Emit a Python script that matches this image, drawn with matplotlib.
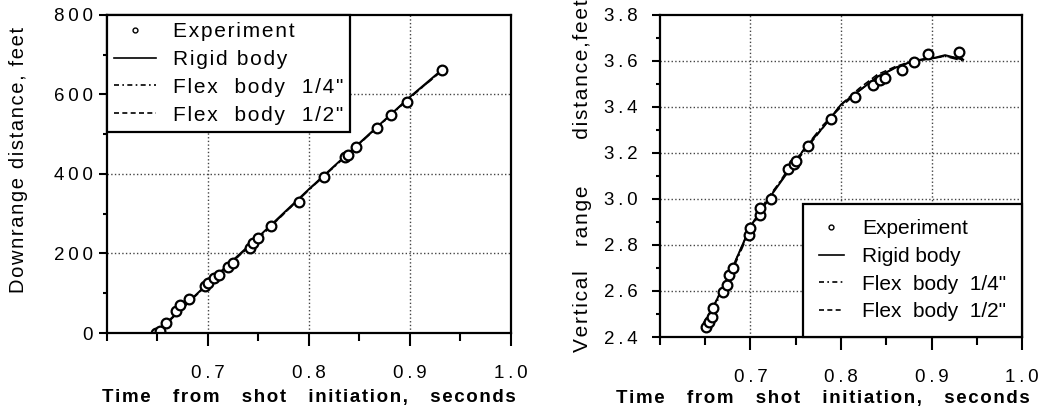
import matplotlib
matplotlib.use('Agg')
import matplotlib.pyplot as plt
from matplotlib.lines import Line2D
from matplotlib.ticker import MultipleLocator, FixedLocator

plt.rcParams['font.family'] = ['Liberation Sans', 'DejaVu Sans']

# Downrange distance (feet) vs time (s)
t_exp_dr = [0.649, 0.653, 0.658, 0.668, 0.672, 0.681, 0.697, 0.700, 0.706, 0.711,
            0.720, 0.725, 0.742, 0.745, 0.750, 0.762, 0.790, 0.8145, 0.836, 0.839,
            0.847, 0.867, 0.881, 0.897, 0.932]
d_exp_dr = [0, 5, 25, 55, 70, 85, 117, 125, 138, 146,
            167, 176, 213, 226, 238, 268, 330, 393, 443, 448,
            469, 515, 548, 582, 661]
t_mod_dr = [0.648, 0.66, 0.70, 0.75, 0.80, 0.85, 0.90, 0.932]
rigid_dr = [0, 28, 125, 242, 362, 478, 594, 663]
flex14_dr = [0, 27, 123, 240, 360, 476, 592, 661]
flex12_dr = [0, 26, 124, 238, 361, 477, 593, 660]

# Vertical range distance (feet) vs time (s)
t_exp_vr = [0.651, 0.654, 0.657, 0.659, 0.670, 0.674, 0.676, 0.681, 0.698, 0.700,
            0.711, 0.711, 0.723, 0.741, 0.748, 0.750, 0.763, 0.789, 0.815, 0.835,
            0.843, 0.849, 0.867, 0.881, 0.896, 0.930]
v_exp_vr = [2.444, 2.466, 2.487, 2.524, 2.597, 2.626, 2.670, 2.699, 2.845, 2.874,
            2.932, 2.961, 2.998, 3.129, 3.151, 3.166, 3.231, 3.348, 3.443, 3.494,
            3.516, 3.527, 3.559, 3.596, 3.632, 3.640]
t_mod_vr = [0.648, 0.66, 0.68, 0.70, 0.72, 0.74, 0.76, 0.78, 0.80, 0.82,
            0.84, 0.86, 0.88, 0.90, 0.915, 0.935]
rigid_vr = [2.45, 2.54, 2.70, 2.88, 3.00, 3.11, 3.22, 3.31, 3.41, 3.47,
            3.53, 3.57, 3.60, 3.61, 3.625, 3.605]
flex14_vr = [2.45, 2.53, 2.69, 2.87, 3.00, 3.12, 3.22, 3.32, 3.40, 3.47,
             3.53, 3.57, 3.60, 3.61, 3.62, 3.60]
flex12_vr = [2.46, 2.54, 2.70, 2.88, 3.01, 3.11, 3.21, 3.31, 3.41, 3.48,
             3.54, 3.575, 3.60, 3.615, 3.62, 3.61]

x_ticks = [0.7, 0.8, 0.9, 1.0]
x_ticklabels = ['0.7', '0.8', '0.9', '1.0']
dr_ticks = [0, 200, 400, 600, 800]
dr_ticklabels = ['0', '200', '400', '600', '800']
vr_ticks = [2.4, 2.6, 2.8, 3.0, 3.2, 3.4, 3.6, 3.8]
vr_ticklabels = ['2.4', '2.6', '2.8', '3.0', '3.2', '3.4', '3.6', '3.8']

labels = ['Experiment', 'Rigid body', 'Flex  body  1/4"', 'Flex  body  1/2"']
xlabel = 'Time   from   shot   initiation,   seconds'
ylabel_dr = 'Downrange distance, feet'
ylabel_vr = 'Vertical   range      distance,feet'

THIN = '\u2009'
HAIR = '\u200a'


def tracked(s, sp=THIN):
    # old typewriter-style letter spacing
    return sp.join(s)


fig = plt.figure(figsize=(10.57, 4.13), dpi=100)
ax1 = fig.add_axes([0.1012, 0.1937, 0.3822, 0.770])
ax2 = fig.add_axes([0.6244, 0.184, 0.3425, 0.780])


def style(ax, yticks, yticklabels, ylim, ymin_step, grid_y, ypad):
    ax.set_xlim(0.6, 1.0)
    ax.set_ylim(*ylim)
    ax.xaxis.set_major_locator(FixedLocator(x_ticks))
    ax.set_xticklabels([tracked(s) for s in x_ticklabels])
    ax.xaxis.set_minor_locator(MultipleLocator(0.05))
    ax.yaxis.set_major_locator(FixedLocator(yticks))
    ax.set_yticklabels([tracked(s) for s in yticklabels])
    ax.yaxis.set_minor_locator(MultipleLocator(ymin_step))
    ax.tick_params(axis='x', which='both', direction='out', length=9, width=1.5,
                   pad=14, labelsize=13.5)
    ax.tick_params(axis='x', which='minor', length=6)
    ax.tick_params(axis='y', which='major', direction='out', length=6, width=1.5,
                   pad=ypad, labelsize=13.5)
    ax.tick_params(axis='y', which='minor', direction='out', length=3, width=1.5)
    for s in ax.spines.values():
        s.set_linewidth(1.6)
    for x in [0.7, 0.8, 0.9]:
        ax.axvline(x, color='#444', lw=1, ls=':', zorder=0)
    for y in grid_y:
        ax.axhline(y, color='#444', lw=1, ls=':', zorder=0)


def plot_set(ax, te, ye, tm, r, f14, f12):
    ax.plot(tm, r, color='black', lw=1.4, ls='-')
    ax.plot(tm, f14, color='black', lw=1.2, ls=(0, (5, 2, 1, 2)))
    ax.plot(tm, f12, color='black', lw=1.2, ls=(0, (4, 2)))
    ax.plot(te, ye, ls='none', marker='o', ms=7, mfc='white', mec='black', mew=1.6)


def legend_handles():
    return [Line2D([], [], ls='none', marker='o', ms=3.5, mfc='white', mec='black', mew=1),
            Line2D([], [], color='black', lw=1.2, ls='-'),
            Line2D([], [], color='black', lw=1.2, ls=(0, (3, 2, 1, 2))),
            Line2D([], [], color='black', lw=1.2, ls=(0, (3, 2)))]


style(ax1, dr_ticks, dr_ticklabels, (0, 800), 100, [200, 400, 600], 4)
plot_set(ax1, t_exp_dr, d_exp_dr, t_mod_dr, rigid_dr, flex14_dr, flex12_dr)
ax1.set_xlabel(tracked(xlabel, HAIR), fontsize=13.5, fontweight='bold')
ax1.xaxis.set_label_coords(0.5, -0.175)
ax1.set_ylabel(tracked(ylabel_dr, HAIR), fontsize=14.5)
ax1.yaxis.set_label_coords(-0.196, 0.544)
leg1 = ax1.legend(legend_handles(), [tracked(s, HAIR) for s in labels],
                  loc='upper left', bbox_to_anchor=(0, 1),
                  borderaxespad=0, fontsize=15, handlelength=2.0, handletextpad=0.8,
                  labelspacing=0.42, borderpad=0.35, fancybox=False, framealpha=1,
                  edgecolor='black')
leg1.get_frame().set_linewidth(1.6)

style(ax2, vr_ticks, vr_ticklabels, (2.4, 3.8), 0.1,
      [2.6, 2.8, 3.0, 3.2, 3.4, 3.6], 10)
plot_set(ax2, t_exp_vr, v_exp_vr, t_mod_vr, rigid_vr, flex14_vr, flex12_vr)
ax2.set_xlabel(tracked(xlabel, HAIR), fontsize=13.5, fontweight='bold')
ax2.xaxis.set_label_coords(0.45, -0.165)
ax2.set_ylabel(tracked(ylabel_vr, HAIR), fontsize=15)
ax2.yaxis.set_label_coords(-0.188, 0.5)
leg2 = ax2.legend(legend_handles(), labels,
                  loc='lower right', bbox_to_anchor=(1, 0),
                  borderaxespad=0, fontsize=15, handlelength=1.2, handletextpad=0.9,
                  labelspacing=0.42, borderpad=0.75, fancybox=False, framealpha=1,
                  edgecolor='black')
leg2.get_frame().set_linewidth(1.6)

fig.savefig('out.png', dpi=100, facecolor='white')
